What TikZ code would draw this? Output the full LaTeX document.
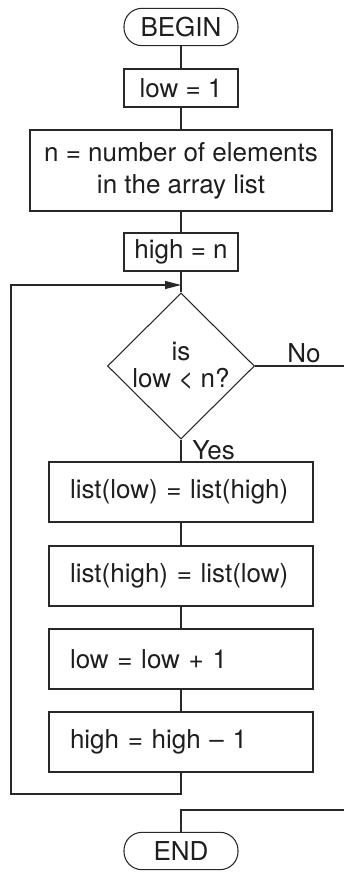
\documentclass[tikz,border=0pt]{standalone}
\usepackage{fontspec}
\setmainfont{TeX Gyre Heros}
\usetikzlibrary{shapes.geometric,arrows.meta}

\tikzset{
  flowline/.style={draw={rgb, 255:red, 40; green, 40; blue, 40 }, line width=0.8pt},
  termbox/.style={flowline, rectangle, rounded corners=13.5pt, minimum width=85.5pt, minimum height=28pt, inner sep=0pt},
  setbox/.style={flowline, rectangle, minimum width=85.5pt, minimum height=28.5pt, inner sep=0pt},
  stepbox/.style={flowline, rectangle, minimum width=198pt, minimum height=45pt, text width=166.5pt, inner xsep=15.75pt, inner ysep=0pt, align=left},
  testbox/.style={flowline, diamond, aspect=1, minimum width=110.25pt, minimum height=109.5pt, inner sep=0pt, align=center, font=\fontsize{19.5}{20}\selectfont},
}

\begin{document}
\begin{tikzpicture}[x=0.75pt,y=0.75pt,yscale=-1,xscale=1, font=\fontsize{19.5}{24}\selectfont, text={rgb, 255:red, 30; green, 30; blue, 30 }]
\useasboundingbox (0,0) rectangle (343,873);

%Shape: Terminal [id:begin]
\node [termbox] (begin) at (181,27) {BEGIN};
%Shape: Rectangle [id:lowset]
\node [setbox] (lowset) at (181,88) {low = 1};
%Shape: Rectangle [id:count]
\node [flowline, rectangle, minimum width=226.5pt, minimum height=60.75pt, inner sep=0pt, align=center] (count) at (181,170.5) {n = number of elements\\in the array list};
%Shape: Rectangle [id:highset]
\node [setbox] (highset) at (181,252) {high = n};
%Shape: Diamond [id:test]
\node [testbox] (test) at (181,366) {is\\low < n?};
%Shape: Rectangle [id:swapa]
\node [stepbox] (swapa) at (181,492) {list(low) = list(high)};
%Shape: Rectangle [id:swapb]
\node [stepbox] (swapb) at (181,576) {list(high) = list(low)};
%Shape: Rectangle [id:inclow]
\node [stepbox] (inclow) at (181,659) {low = low + 1};
%Shape: Rectangle [id:dechigh]
\node [stepbox] (dechigh) at (181,742) {high = high – 1};
%Shape: Terminal [id:finish]
\node [termbox] (finish) at (181,851) {END};

% Text Node
\node [anchor=west, inner sep=0.75pt] (lno) at (286,353) {No};
% Text Node
\node [anchor=west, inner sep=0.75pt] (lyes) at (191,450) {Yes};

%Corners of the connectors
\coordinate (merge) at (181,285);
\coordinate (loopbot) at (11,794);
\coordinate (noout) at (346,366);
\coordinate (noback) at (346,810);

%Straight Lines
\draw [flowline] (begin) -- (lowset);
\draw [flowline] (lowset) -- (count);
\draw [flowline] (count) -- (highset);
\draw [flowline] (highset) -- (test);
\draw [flowline] (test) -- (swapa);
\draw [flowline] (swapa) -- (swapb);
\draw [flowline] (swapb) -- (inclow);
\draw [flowline] (inclow) -- (dechigh);
%Loop back to the test
\draw [flowline, -{Triangle[length=12pt,width=6pt]}] (dechigh.south) |- (loopbot) |- (merge);
%No branch to the end
\draw [flowline] (test.east) -- (noout) -- (noback) -| (finish.north);

\end{tikzpicture}
\end{document}
